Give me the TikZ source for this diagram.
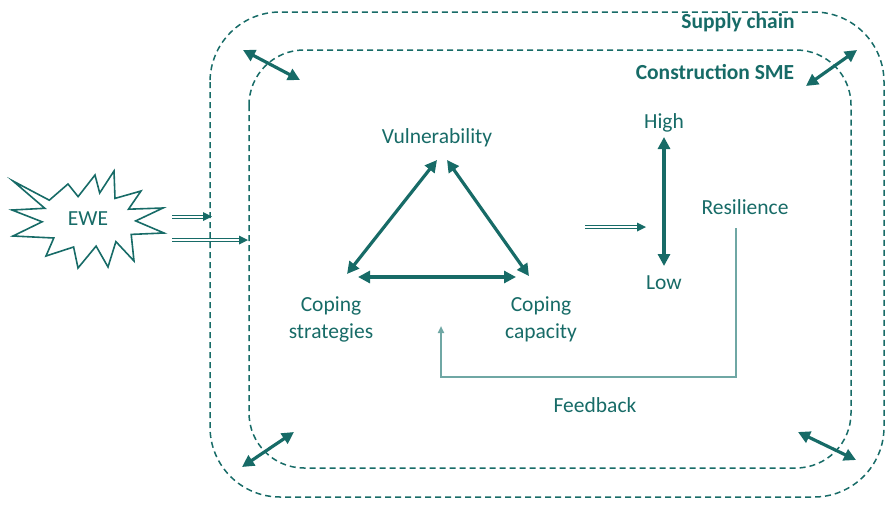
\documentclass[tikz,border=0pt]{standalone}
\usepackage{fontspec}
\setmainfont{Carlito}
\usetikzlibrary{arrows.meta}
\definecolor{tealA}{HTML}{176B67}
\definecolor{tealB}{HTML}{6FA7A4}
\begin{document}
\begin{tikzpicture}[x=1pt,y=-1pt,
  lbl/.style={text=tealA, font=\fontsize{21.5}{27}\selectfont, align=center, inner sep=0pt},
  boldlbl/.style={text=tealA, font=\fontsize{21.5}{26}\selectfont\bfseries, inner sep=0pt},
  frame/.style={draw=tealA, line width=1.5pt, dash pattern=on 6pt off 4pt},
  twoway/.style={draw=tealA, line width=3.2pt, {Triangle[length=12pt,width=12pt]}-{Triangle[length=12pt,width=12pt]}},
  dblline/.style={draw=tealA, double=white, double distance=2pt, line width=1pt, shorten >=7pt},
  fback/.style={draw=tealB, line width=2.4pt},
  star/.style={draw=tealA, line width=1.6pt, line join=miter}
]
\useasboundingbox (0,0) rectangle (888,504);

% frames
\draw[frame, rounded corners=70pt] (210,12) rectangle (884,497);
\draw[frame, rounded corners=55pt] (249,50) rectangle (851,468);
\node[boldlbl] (sc) at (738,23) {Supply chain};
\node[boldlbl] (sme) at (715,72) {Construction SME};

% corner arrows
\coordinate (tl1) at (243,50); \coordinate (tl2) at (300,80);
\coordinate (tr1) at (806,86); \coordinate (tr2) at (857,50);
\coordinate (bl1) at (242,467); \coordinate (bl2) at (294,432);
\coordinate (br1) at (798,432); \coordinate (br2) at (856,460);
\draw[twoway] (tl1) -- (tl2);
\draw[twoway] (tr1) -- (tr2);
\draw[twoway] (bl1) -- (bl2);
\draw[twoway] (br1) -- (br2);

% EWE star
\draw[star] (13,181) -- (49.3,200.2) -- (68,184) -- (78.1,196.6) -- (95,175)
  -- (99.7,193) -- (114,171) -- (115,198.4) -- (141,191) -- (128.5,209.2)
  -- (163,208) -- (135.7,220.9) -- (164,233) -- (131.2,234.4) -- (134,261)
  -- (115.9,241.6) -- (108,267) -- (96.1,246.1) -- (78,268) -- (73.6,247)
  -- (46,256) -- (53.8,238) -- (13,236) -- (42.1,221.8) -- (12,210)
  -- (44.8,208.3) -- cycle;
\node[lbl] (ewe) at (88,219) {EWE};

% EWE arrows
\coordinate (e1) at (172,216.5); \coordinate (e1t) at (212,216.5);
\coordinate (e2) at (172,240); \coordinate (e2t) at (248,240);
\draw[dblline] (e1) -- (e1t);
\fill[tealA] (e1t) -- ++(-9,-4.5) -- ++(0,9) -- cycle;
\draw[dblline] (e2) -- (e2t);
\fill[tealA] (e2t) -- ++(-9,-4.5) -- ++(0,9) -- cycle;

% triangle
\node[lbl] (vul) at (437,138) {Vulnerability};
\node[lbl] (cs) at (331,319) {Coping\\strategies};
\node[lbl] (cc) at (541,319) {Coping\\capacity};
\coordinate (vL) at (437,160); \coordinate (vR) at (447,160);
\coordinate (sT) at (347,274); \coordinate (cT) at (529,276);
\coordinate (bL) at (358,277); \coordinate (bR) at (516,277);
\draw[twoway] (vL) -- (sT);
\draw[twoway] (vR) -- (cT);
\draw[twoway] (bL) -- (bR);

% to resilience
\coordinate (m1) at (585,227); \coordinate (m2) at (646,227);
\draw[dblline] (m1) -- (m2);
\fill[tealA] (m2) -- ++(-9,-4.5) -- ++(0,9) -- cycle;

\node[lbl] (hi) at (664,123) {High};
\node[lbl] (lo) at (664,283) {Low};
\node[lbl] (res) at (745,207) {Resilience};
\coordinate (hiA) at (664,137); \coordinate (loA) at (664,266);
\draw[twoway] (hiA) -- (loA);

% feedback
\coordinate (f0) at (736,228);
\coordinate (f3) at (441,326);
\draw[fback, -{Triangle[length=7pt,width=6pt]}] (f0) |- (441,377) -- (f3);
\node[lbl] (fb) at (595,405) {Feedback};
\end{tikzpicture}
\end{document}
